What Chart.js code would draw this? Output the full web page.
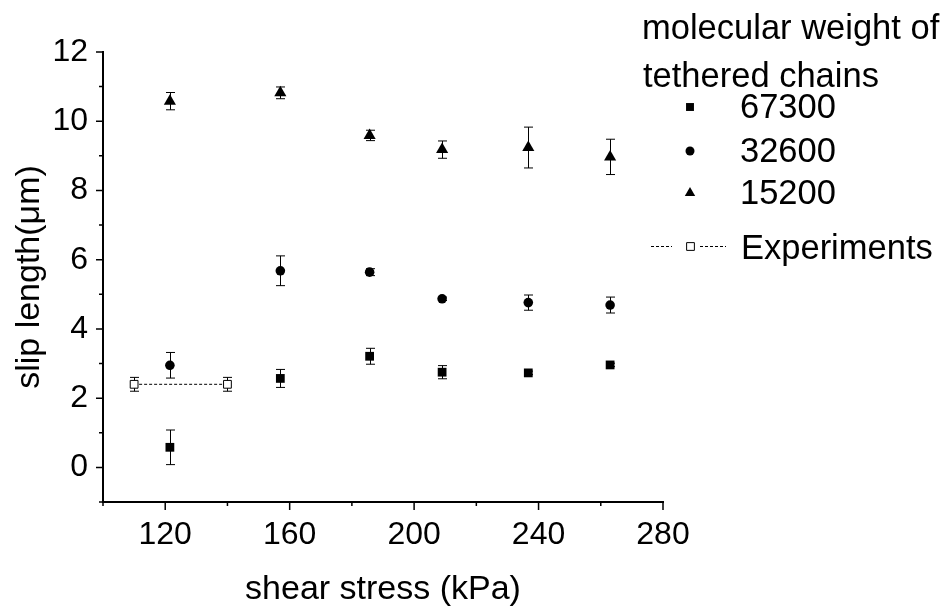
<!DOCTYPE html>
<html>
<head>
<meta charset="utf-8">
<script src="https://cdn.jsdelivr.net/npm/chart.js@4.4.1/dist/chart.umd.min.js"></script>
<style>
  body { margin: 0; background: #fff; }
  #wrap { width: 949px; height: 607px; }
</style>
</head>
<body>
<div id="wrap"><canvas id="chart" width="949" height="607"></canvas></div>
<script>
// shear stress (kPa) of the simulation points
const shearStress = [121.5, 157, 185.7, 209, 236.7, 263];

// slip length (µm) per molecular weight, with error half-widths
const mw67300 = [0.58, 2.57, 3.21, 2.75, 2.73, 2.96];
const mw67300Err = [0.5, 0.26, 0.23, 0.19, 0.05, 0.05];
const mw32600 = [2.95, 5.68, 5.64, 4.87, 4.76, 4.69];
const mw32600Err = [0.37, 0.43, 0.1, 0.05, 0.22, 0.23];
const mw15200 = [10.58, 10.82, 9.59, 9.18, 9.24, 8.97];
const mw15200Err = [0.25, 0.17, 0.15, 0.25, 0.59, 0.51];

// experiments
const expStress = [110, 140];
const expSlip = [2.4, 2.4];
const expErr = [0.2, 0.2];

const FONT = '"Liberation Sans", Arial, sans-serif';

const toPoints = (xs, ys) => xs.map((v, i) => ({ x: v, y: ys[i] }));

// 误差棒
const errorBars = {
    id: 'errorBars',
    beforeDatasetsDraw(chart) {
        const { ctx, scales: { x, y } } = chart;
        ctx.save();
        ctx.strokeStyle = '#000';
        ctx.lineWidth = 1;
        chart.data.datasets.forEach(ds => {
            if (!ds.errors) return;
            ds.data.forEach((p, j) => {
                const e = ds.errors[j];
                const px = Math.round(x.getPixelForValue(p.x)) + 0.5;
                const top = y.getPixelForValue(p.y + e);
                const bot = y.getPixelForValue(p.y - e);
                ctx.beginPath();
                ctx.moveTo(px, top); ctx.lineTo(px, bot);
                ctx.moveTo(px - 4.5, top); ctx.lineTo(px + 4.5, top);
                ctx.moveTo(px - 4.5, bot); ctx.lineTo(px + 4.5, bot);
                ctx.stroke();
            });
        });
        ctx.restore();
    }
};

// 刻度线（主刻度长，次刻度短）
const tickMarks = {
    id: 'tickMarks',
    afterDraw(chart) {
        const { ctx, scales: { x, y }, chartArea } = chart;
        ctx.save();
        ctx.strokeStyle = '#000';
        ctx.lineWidth = 1.5;
        ctx.beginPath();
        x.ticks.forEach(t => {
            const px = x.getPixelForValue(t.value);
            const len = (t.value - 120) % 40 === 0 ? 8 : 4;
            ctx.moveTo(px, chartArea.bottom); ctx.lineTo(px, chartArea.bottom + len);
        });
        y.ticks.forEach(t => {
            const py = y.getPixelForValue(t.value);
            const len = t.value % 2 === 0 ? 7 : 4;
            ctx.moveTo(chartArea.left, py); ctx.lineTo(chartArea.left - len, py);
        });
        ctx.stroke();
        ctx.restore();
    }
};

// 图例
const customLegend = {
    id: 'customLegend',
    afterDraw(chart) {
        const { ctx } = chart;
        const drawPoint = Chart.helpers.drawPoint;
        ctx.save();
        ctx.fillStyle = '#000';
        ctx.strokeStyle = '#000';
        ctx.font = '34.5px ' + FONT;
        ctx.textBaseline = 'alphabetic';
        ctx.textAlign = 'left';
        ctx.fillText('molecular weight of', 642, 39);
        ctx.fillText('tethered chains', 643, 87);

        const items = chart.data.datasets.slice(0, 3);
        const rows = [107, 151, 193];
        items.forEach((ds, i) => {
            ctx.fillStyle = '#000';
            drawPoint(ctx, { pointStyle: ds.pointStyle, radius: ds.legendRadius, borderWidth: 0 }, 690, rows[i]);
            ctx.fillText(ds.label, 740, rows[i] + 11);
        });

        // Experiments
        const ex = chart.data.datasets[3];
        ctx.lineWidth = 1;
        ctx.setLineDash([3, 2]);
        ctx.beginPath();
        ctx.moveTo(651, 246.5); ctx.lineTo(672, 246.5);
        ctx.moveTo(700, 246.5); ctx.lineTo(726, 246.5);
        ctx.stroke();
        ctx.setLineDash([]);
        ctx.fillStyle = '#fff';
        drawPoint(ctx, { pointStyle: 'rect', radius: 5.5, borderWidth: 1 }, 690.5, 246.5);
        ctx.fillStyle = '#000';
        ctx.fillText(ex.label, 741, 259);
        ctx.restore();
    }
};

const ctx = document.getElementById('chart').getContext('2d');
new Chart(ctx, {
    type: 'scatter',
    data: {
        datasets: [
            {
                label: '67300', data: toPoints(shearStress, mw67300), errors: mw67300Err,
                pointStyle: 'rect', pointRadius: 6.2, legendRadius: 5.6,
                backgroundColor: '#000', borderColor: '#000', borderWidth: 0
            },
            {
                label: '32600', data: toPoints(shearStress, mw32600), errors: mw32600Err,
                pointStyle: 'circle', pointRadius: 4.8, legendRadius: 4.5,
                backgroundColor: '#000', borderColor: '#000', borderWidth: 0
            },
            {
                label: '15200', data: toPoints(shearStress, mw15200), errors: mw15200Err,
                pointStyle: 'triangle', pointRadius: 7, legendRadius: 6,
                backgroundColor: '#000', borderColor: '#000', borderWidth: 0
            },
            {
                label: 'Experiments', data: toPoints(expStress, expSlip), errors: expErr,
                showLine: true, borderDash: [3, 2], borderWidth: 1,
                pointStyle: 'rect', pointRadius: 5.5, pointBorderWidth: 1,
                backgroundColor: '#fff', borderColor: '#000'
            }
        ]
    },
    options: {
        responsive: false,
        animation: false,
        layout: { padding: { top: 52, right: 286, left: 0, bottom: 0 } },
        plugins: { legend: { display: false }, tooltip: { enabled: false } },
        scales: {
            x: {
                type: 'linear', min: 100, max: 280,
                afterFit: s => { s.height = 105; },
                border: { color: '#000', width: 2 },
                grid: { display: false, drawTicks: false },
                ticks: {
                    stepSize: 20, autoSkip: false, maxRotation: 0, padding: 14,
                    color: '#000', font: { size: 32, family: FONT },
                    callback: v => ((v - 120) % 40 === 0 ? String(v) : '')
                },
                title: {
                    display: true, text: 'shear stress (kPa)', color: '#000',
                    font: { size: 34, family: FONT, lineHeight: 1 }, padding: 0
                }
            },
            y: {
                type: 'linear', min: -1, max: 12,
                afterFit: s => { s.width = 103; },
                border: { color: '#000', width: 2 },
                grid: { display: false, drawTicks: false },
                ticks: {
                    stepSize: 1, autoSkip: false, padding: 15,
                    color: '#000', font: { size: 32, family: FONT },
                    callback: v => (v % 2 === 0 ? String(v) : '')
                },
                title: {
                    display: true, text: 'slip length(\u03bcm)', color: '#000',
                    font: { size: 34, family: FONT, lineHeight: 1 }, padding: { top: 13, bottom: 0 }
                }
            }
        }
    },
    plugins: [errorBars, tickMarks, customLegend]
});
</script>
</body>
</html>
